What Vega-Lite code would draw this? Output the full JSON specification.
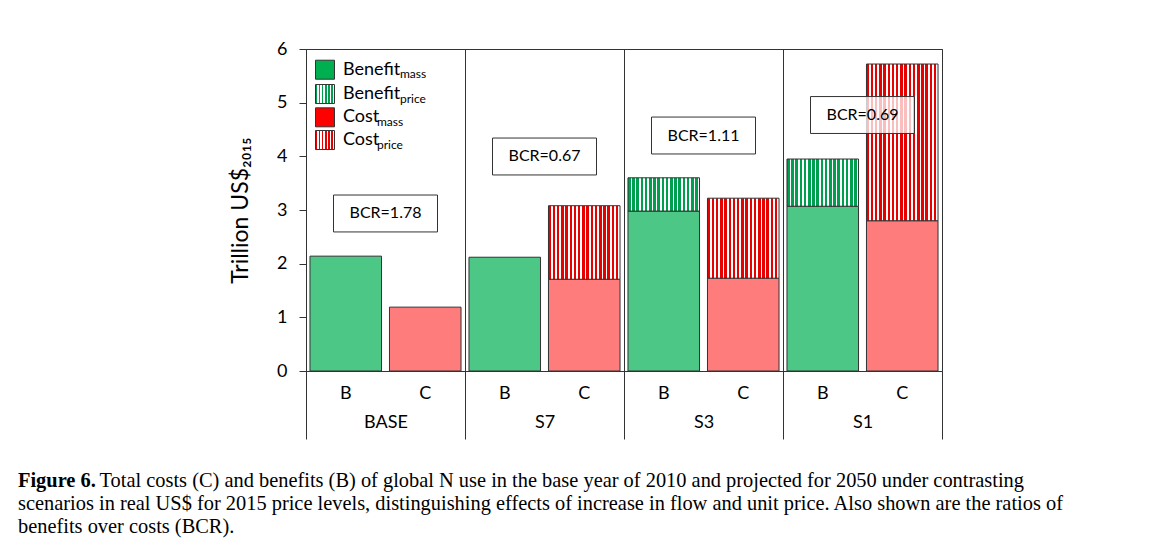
{
  "$schema": "https://vega.github.io/schema/vega-lite/v6.json",
  "width": 636,
  "height": 322,
  "autosize": {"type": "none"},
  "padding": {"left": 306, "top": 49, "right": 210, "bottom": 180},
  "background": "white",
  "config": {
    "view": {"stroke": "#333", "strokeWidth": 1},
    "font": "Lato",
    "axis": {"labelColor": "black", "titleColor": "black", "labelFont": "Lato", "titleFont": "Lato"}
  },
  "datasets": {
    "bars": [
      {"scenario": "BASE", "type": "B", "bar": "BASE B", "mass": 2.14, "total": 2.14},
      {"scenario": "BASE", "type": "C", "bar": "BASE C", "mass": 1.19, "total": 1.19},
      {"scenario": "S7", "type": "B", "bar": "S7 B", "mass": 2.12, "total": 2.12},
      {"scenario": "S7", "type": "C", "bar": "S7 C", "mass": 1.71, "total": 3.08},
      {"scenario": "S3", "type": "B", "bar": "S3 B", "mass": 2.98, "total": 3.60},
      {"scenario": "S3", "type": "C", "bar": "S3 C", "mass": 1.73, "total": 3.22},
      {"scenario": "S1", "type": "B", "bar": "S1 B", "mass": 3.07, "total": 3.95},
      {"scenario": "S1", "type": "C", "bar": "S1 C", "mass": 2.80, "total": 5.72}
    ],
    "bcr": [
      {"scenario": "BASE", "label": "BCR=1.78"},
      {"scenario": "S7", "label": "BCR=0.67"},
      {"scenario": "S3", "label": "BCR=1.11"},
      {"scenario": "S1", "label": "BCR=0.69"}
    ],
    "legend": [
      {"key": "bm", "word": "Benefit", "sub": "mass"},
      {"key": "bp", "word": "Benefit", "sub": "price"},
      {"key": "cm", "word": "Cost", "sub": "mass"},
      {"key": "cp", "word": "Cost", "sub": "price"}
    ]
  },
  "title": {
    "text": "Figure 6.",
    "subtitle": [
      "\u200b\u00a0\u00a0\u00a0\u00a0\u00a0\u00a0\u00a0\u00a0\u00a0\u00a0\u00a0\u00a0\u00a0\u00a0\u00a0\u00a0Total costs (C) and benefits (B) of global N use in the base year of 2010 and projected for 2050 under contrasting",
      "scenarios in real US$ for 2015 price levels, distinguishing effects of increase in flow and unit price. Also shown are the ratios of",
      "benefits over costs (BCR)."
    ],
    "orient": "bottom",
    "anchor": "start",
    "frame": "group",
    "dx": -288,
    "offset": 31,
    "font": "Liberation Serif",
    "fontSize": 20.4,
    "fontWeight": "bold",
    "color": "black",
    "subtitleFont": "Liberation Serif",
    "subtitleFontSize": 20.4,
    "subtitleFontWeight": "normal",
    "subtitleColor": "black",
    "subtitleLineHeight": 23,
    "subtitlePadding": -19.5
  },
  "resolve": {"scale": {"x": "independent"}},
  "layer": [
    {
      "data": {"name": "bars"},
      "layer": [
        {
          "mark": {"type": "bar", "stroke": "#333", "strokeWidth": 1},
          "encoding": {
            "x": {
              "field": "bar", "type": "nominal",
              "scale": {"domain": ["BASE B", "BASE C", "S7 B", "S7 C", "S3 B", "S3 C", "S1 B", "S1 C"], "paddingInner": 0.1, "paddingOuter": 0.05},
              "axis": {"title": null, "labelExpr": "slice(datum.label, -1)", "ticks": false, "domain": false, "grid": false, "labelAngle": 0, "labelFontSize": 18, "labelPadding": 13}
            },
            "y": {
              "field": "mass", "type": "quantitative",
              "scale": {"domain": [0, 6], "nice": false},
              "axis": {"title": "Trillion US$₂₀₁₅", "values": [0, 1, 2, 3, 4, 5, 6], "format": "d", "grid": false, "domain": false, "ticks": true, "tickSize": 7, "tickColor": "#333", "labelPadding": 12, "labelFontSize": 18, "titleFontSize": 23, "titleFontWeight": "normal", "titlePadding": 24}
            },
            "color": {"field": "type", "type": "nominal", "scale": {"domain": ["B", "C"], "range": ["#4DC785", "#FF7C7C"]}, "legend": null}
          }
        },
        {
          "transform": [{"filter": "datum.type == 'B' && datum.total > datum.mass"}],
          "mark": {"type": "bar", "stroke": "#333", "strokeWidth": 1, "fill": {"gradient": "linear", "x1": 0, "y1": 0, "x2": 1, "y2": 0, "stops": [
            {"offset": 0, "color": "#009E4F"}, {"offset": 0.0353, "color": "#009E4F"}, {"offset": 0.0353, "color": "#FFFFFF"}, {"offset": 0.0588, "color": "#FFFFFF"},
            {"offset": 0.0588, "color": "#009E4F"}, {"offset": 0.0941, "color": "#009E4F"}, {"offset": 0.0941, "color": "#FFFFFF"}, {"offset": 0.1176, "color": "#FFFFFF"},
            {"offset": 0.1176, "color": "#009E4F"}, {"offset": 0.1529, "color": "#009E4F"}, {"offset": 0.1529, "color": "#FFFFFF"}, {"offset": 0.1765, "color": "#FFFFFF"},
            {"offset": 0.1765, "color": "#009E4F"}, {"offset": 0.2118, "color": "#009E4F"}, {"offset": 0.2118, "color": "#FFFFFF"}, {"offset": 0.2353, "color": "#FFFFFF"},
            {"offset": 0.2353, "color": "#009E4F"}, {"offset": 0.2706, "color": "#009E4F"}, {"offset": 0.2706, "color": "#FFFFFF"}, {"offset": 0.2941, "color": "#FFFFFF"},
            {"offset": 0.2941, "color": "#009E4F"}, {"offset": 0.3294, "color": "#009E4F"}, {"offset": 0.3294, "color": "#FFFFFF"}, {"offset": 0.3529, "color": "#FFFFFF"},
            {"offset": 0.3529, "color": "#009E4F"}, {"offset": 0.3882, "color": "#009E4F"}, {"offset": 0.3882, "color": "#FFFFFF"}, {"offset": 0.4118, "color": "#FFFFFF"},
            {"offset": 0.4118, "color": "#009E4F"}, {"offset": 0.4471, "color": "#009E4F"}, {"offset": 0.4471, "color": "#FFFFFF"}, {"offset": 0.4706, "color": "#FFFFFF"},
            {"offset": 0.4706, "color": "#009E4F"}, {"offset": 0.5059, "color": "#009E4F"}, {"offset": 0.5059, "color": "#FFFFFF"}, {"offset": 0.5294, "color": "#FFFFFF"},
            {"offset": 0.5294, "color": "#009E4F"}, {"offset": 0.5647, "color": "#009E4F"}, {"offset": 0.5647, "color": "#FFFFFF"}, {"offset": 0.5882, "color": "#FFFFFF"},
            {"offset": 0.5882, "color": "#009E4F"}, {"offset": 0.6235, "color": "#009E4F"}, {"offset": 0.6235, "color": "#FFFFFF"}, {"offset": 0.6471, "color": "#FFFFFF"},
            {"offset": 0.6471, "color": "#009E4F"}, {"offset": 0.6824, "color": "#009E4F"}, {"offset": 0.6824, "color": "#FFFFFF"}, {"offset": 0.7059, "color": "#FFFFFF"},
            {"offset": 0.7059, "color": "#009E4F"}, {"offset": 0.7412, "color": "#009E4F"}, {"offset": 0.7412, "color": "#FFFFFF"}, {"offset": 0.7647, "color": "#FFFFFF"},
            {"offset": 0.7647, "color": "#009E4F"}, {"offset": 0.8, "color": "#009E4F"}, {"offset": 0.8, "color": "#FFFFFF"}, {"offset": 0.8235, "color": "#FFFFFF"},
            {"offset": 0.8235, "color": "#009E4F"}, {"offset": 0.8588, "color": "#009E4F"}, {"offset": 0.8588, "color": "#FFFFFF"}, {"offset": 0.8824, "color": "#FFFFFF"},
            {"offset": 0.8824, "color": "#009E4F"}, {"offset": 0.9176, "color": "#009E4F"}, {"offset": 0.9176, "color": "#FFFFFF"}, {"offset": 0.9412, "color": "#FFFFFF"},
            {"offset": 0.9412, "color": "#009E4F"}, {"offset": 0.9765, "color": "#009E4F"}, {"offset": 0.9765, "color": "#FFFFFF"}, {"offset": 1, "color": "#FFFFFF"}
          ]}},
          "encoding": {
            "x": {"field": "bar", "type": "nominal"},
            "y": {"field": "total", "type": "quantitative"},
            "y2": {"field": "mass"}
          }
        },
        {
          "transform": [{"filter": "datum.type == 'C' && datum.total > datum.mass"}],
          "mark": {"type": "bar", "stroke": "#333", "strokeWidth": 1, "fill": {"gradient": "linear", "x1": 0, "y1": 0, "x2": 1, "y2": 0, "stops": [
            {"offset": 0, "color": "#E60000"}, {"offset": 0.0353, "color": "#E60000"}, {"offset": 0.0353, "color": "#FFFFFF"}, {"offset": 0.0588, "color": "#FFFFFF"},
            {"offset": 0.0588, "color": "#E60000"}, {"offset": 0.0941, "color": "#E60000"}, {"offset": 0.0941, "color": "#FFFFFF"}, {"offset": 0.1176, "color": "#FFFFFF"},
            {"offset": 0.1176, "color": "#E60000"}, {"offset": 0.1529, "color": "#E60000"}, {"offset": 0.1529, "color": "#FFFFFF"}, {"offset": 0.1765, "color": "#FFFFFF"},
            {"offset": 0.1765, "color": "#E60000"}, {"offset": 0.2118, "color": "#E60000"}, {"offset": 0.2118, "color": "#FFFFFF"}, {"offset": 0.2353, "color": "#FFFFFF"},
            {"offset": 0.2353, "color": "#E60000"}, {"offset": 0.2706, "color": "#E60000"}, {"offset": 0.2706, "color": "#FFFFFF"}, {"offset": 0.2941, "color": "#FFFFFF"},
            {"offset": 0.2941, "color": "#E60000"}, {"offset": 0.3294, "color": "#E60000"}, {"offset": 0.3294, "color": "#FFFFFF"}, {"offset": 0.3529, "color": "#FFFFFF"},
            {"offset": 0.3529, "color": "#E60000"}, {"offset": 0.3882, "color": "#E60000"}, {"offset": 0.3882, "color": "#FFFFFF"}, {"offset": 0.4118, "color": "#FFFFFF"},
            {"offset": 0.4118, "color": "#E60000"}, {"offset": 0.4471, "color": "#E60000"}, {"offset": 0.4471, "color": "#FFFFFF"}, {"offset": 0.4706, "color": "#FFFFFF"},
            {"offset": 0.4706, "color": "#E60000"}, {"offset": 0.5059, "color": "#E60000"}, {"offset": 0.5059, "color": "#FFFFFF"}, {"offset": 0.5294, "color": "#FFFFFF"},
            {"offset": 0.5294, "color": "#E60000"}, {"offset": 0.5647, "color": "#E60000"}, {"offset": 0.5647, "color": "#FFFFFF"}, {"offset": 0.5882, "color": "#FFFFFF"},
            {"offset": 0.5882, "color": "#E60000"}, {"offset": 0.6235, "color": "#E60000"}, {"offset": 0.6235, "color": "#FFFFFF"}, {"offset": 0.6471, "color": "#FFFFFF"},
            {"offset": 0.6471, "color": "#E60000"}, {"offset": 0.6824, "color": "#E60000"}, {"offset": 0.6824, "color": "#FFFFFF"}, {"offset": 0.7059, "color": "#FFFFFF"},
            {"offset": 0.7059, "color": "#E60000"}, {"offset": 0.7412, "color": "#E60000"}, {"offset": 0.7412, "color": "#FFFFFF"}, {"offset": 0.7647, "color": "#FFFFFF"},
            {"offset": 0.7647, "color": "#E60000"}, {"offset": 0.8, "color": "#E60000"}, {"offset": 0.8, "color": "#FFFFFF"}, {"offset": 0.8235, "color": "#FFFFFF"},
            {"offset": 0.8235, "color": "#E60000"}, {"offset": 0.8588, "color": "#E60000"}, {"offset": 0.8588, "color": "#FFFFFF"}, {"offset": 0.8824, "color": "#FFFFFF"},
            {"offset": 0.8824, "color": "#E60000"}, {"offset": 0.9176, "color": "#E60000"}, {"offset": 0.9176, "color": "#FFFFFF"}, {"offset": 0.9412, "color": "#FFFFFF"},
            {"offset": 0.9412, "color": "#E60000"}, {"offset": 0.9765, "color": "#E60000"}, {"offset": 0.9765, "color": "#FFFFFF"}, {"offset": 1, "color": "#FFFFFF"}
          ]}},
          "encoding": {
            "x": {"field": "bar", "type": "nominal"},
            "y": {"field": "total", "type": "quantitative"},
            "y2": {"field": "mass"}
          }
        },
        {
          "data": {"name": "legend"},
          "transform": [{"filter": "datum.key == 'bm'"}],
          "encoding": {"x": {"datum": "BASE B", "type": "nominal", "bandPosition": 0.21}, "y": {"datum": 5.614, "type": "quantitative"}},
          "layer": [
            {"mark": {"type": "point", "shape": "square", "size": 361, "filled": true, "fill": "#00B050", "stroke": "#333", "strokeWidth": 1, "opacity": 1}},
            {"mark": {"type": "text", "align": "left", "baseline": "alphabetic", "dx": 18, "dy": 5, "fontSize": 18, "font": "Lato", "color": "black"}, "encoding": {"text": {"field": "word"}}},
            {"mark": {"type": "text", "align": "left", "baseline": "alphabetic", "dx": 75, "dy": 8.5, "fontSize": 12, "font": "Lato", "color": "black"}, "encoding": {"text": {"field": "sub"}}}
          ]
        },
        {
          "data": {"name": "legend"},
          "transform": [{"filter": "datum.key == 'bp'"}],
          "encoding": {"x": {"datum": "BASE B", "type": "nominal", "bandPosition": 0.21}, "y": {"datum": 5.161, "type": "quantitative"}},
          "layer": [
            {"mark": {"type": "point", "shape": "square", "size": 361, "filled": true, "stroke": "#333", "strokeWidth": 1, "opacity": 1, "fill": {"gradient": "linear", "x1": 0, "y1": 0, "x2": 1, "y2": 0, "stops": [
              {"offset": 0, "color": "#009E4F"}, {"offset": 0.0833, "color": "#009E4F"}, {"offset": 0.0833, "color": "#FFFFFF"}, {"offset": 0.1667, "color": "#FFFFFF"},
              {"offset": 0.1667, "color": "#009E4F"}, {"offset": 0.25, "color": "#009E4F"}, {"offset": 0.25, "color": "#FFFFFF"}, {"offset": 0.3333, "color": "#FFFFFF"},
              {"offset": 0.3333, "color": "#009E4F"}, {"offset": 0.4167, "color": "#009E4F"}, {"offset": 0.4167, "color": "#FFFFFF"}, {"offset": 0.5, "color": "#FFFFFF"},
              {"offset": 0.5, "color": "#009E4F"}, {"offset": 0.5833, "color": "#009E4F"}, {"offset": 0.5833, "color": "#FFFFFF"}, {"offset": 0.6667, "color": "#FFFFFF"},
              {"offset": 0.6667, "color": "#009E4F"}, {"offset": 0.75, "color": "#009E4F"}, {"offset": 0.75, "color": "#FFFFFF"}, {"offset": 0.8333, "color": "#FFFFFF"},
              {"offset": 0.8333, "color": "#009E4F"}, {"offset": 0.9167, "color": "#009E4F"}, {"offset": 0.9167, "color": "#FFFFFF"}, {"offset": 1, "color": "#FFFFFF"}
            ]}}},
            {"mark": {"type": "text", "align": "left", "baseline": "alphabetic", "dx": 18, "dy": 5, "fontSize": 18, "font": "Lato", "color": "black"}, "encoding": {"text": {"field": "word"}}},
            {"mark": {"type": "text", "align": "left", "baseline": "alphabetic", "dx": 75, "dy": 8.5, "fontSize": 12, "font": "Lato", "color": "black"}, "encoding": {"text": {"field": "sub"}}}
          ]
        },
        {
          "data": {"name": "legend"},
          "transform": [{"filter": "datum.key == 'cm'"}],
          "encoding": {"x": {"datum": "BASE B", "type": "nominal", "bandPosition": 0.21}, "y": {"datum": 4.727, "type": "quantitative"}},
          "layer": [
            {"mark": {"type": "point", "shape": "square", "size": 361, "filled": true, "fill": "#FF0000", "stroke": "#333", "strokeWidth": 1, "opacity": 1}},
            {"mark": {"type": "text", "align": "left", "baseline": "alphabetic", "dx": 18, "dy": 5, "fontSize": 18, "font": "Lato", "color": "black"}, "encoding": {"text": {"field": "word"}}},
            {"mark": {"type": "text", "align": "left", "baseline": "alphabetic", "dx": 52, "dy": 8.5, "fontSize": 12, "font": "Lato", "color": "black"}, "encoding": {"text": {"field": "sub"}}}
          ]
        },
        {
          "data": {"name": "legend"},
          "transform": [{"filter": "datum.key == 'cp'"}],
          "encoding": {"x": {"datum": "BASE B", "type": "nominal", "bandPosition": 0.21}, "y": {"datum": 4.304, "type": "quantitative"}},
          "layer": [
            {"mark": {"type": "point", "shape": "square", "size": 361, "filled": true, "stroke": "#333", "strokeWidth": 1, "opacity": 1, "fill": {"gradient": "linear", "x1": 0, "y1": 0, "x2": 1, "y2": 0, "stops": [
              {"offset": 0, "color": "#E60000"}, {"offset": 0.0833, "color": "#E60000"}, {"offset": 0.0833, "color": "#FFFFFF"}, {"offset": 0.1667, "color": "#FFFFFF"},
              {"offset": 0.1667, "color": "#E60000"}, {"offset": 0.25, "color": "#E60000"}, {"offset": 0.25, "color": "#FFFFFF"}, {"offset": 0.3333, "color": "#FFFFFF"},
              {"offset": 0.3333, "color": "#E60000"}, {"offset": 0.4167, "color": "#E60000"}, {"offset": 0.4167, "color": "#FFFFFF"}, {"offset": 0.5, "color": "#FFFFFF"},
              {"offset": 0.5, "color": "#E60000"}, {"offset": 0.5833, "color": "#E60000"}, {"offset": 0.5833, "color": "#FFFFFF"}, {"offset": 0.6667, "color": "#FFFFFF"},
              {"offset": 0.6667, "color": "#E60000"}, {"offset": 0.75, "color": "#E60000"}, {"offset": 0.75, "color": "#FFFFFF"}, {"offset": 0.8333, "color": "#FFFFFF"},
              {"offset": 0.8333, "color": "#E60000"}, {"offset": 0.9167, "color": "#E60000"}, {"offset": 0.9167, "color": "#FFFFFF"}, {"offset": 1, "color": "#FFFFFF"}
            ]}}},
            {"mark": {"type": "text", "align": "left", "baseline": "alphabetic", "dx": 18, "dy": 5, "fontSize": 18, "font": "Lato", "color": "black"}, "encoding": {"text": {"field": "word"}}},
            {"mark": {"type": "text", "align": "left", "baseline": "alphabetic", "dx": 52, "dy": 8.5, "fontSize": 12, "font": "Lato", "color": "black"}, "encoding": {"text": {"field": "sub"}}}
          ]
        }
      ]
    },
    {
      "data": {"name": "bcr"},
      "encoding": {
        "x": {
          "field": "scenario", "type": "nominal",
          "scale": {"domain": ["BASE", "S7", "S3", "S1"], "paddingInner": 0, "paddingOuter": 0},
          "axis": {"title": null, "orient": "bottom", "labelAngle": 0, "ticks": true, "tickBand": "extent", "tickSize": 68, "tickColor": "#333", "domain": false, "grid": true, "gridColor": "#333", "gridOpacity": 1, "labelPadding": -26, "labelFontSize": 18}
        }
      },
      "layer": [
        {
          "transform": [{"filter": "datum.scenario == 'BASE'"}],
          "encoding": {"y": {"datum": 2.935, "type": "quantitative"}},
          "layer": [
            {"mark": {"type": "point", "shape": "M-1,-0.355L1,-0.355L1,0.355L-1,0.355Z", "size": 10816, "filled": true, "fill": "white", "fillOpacity": 0.75, "stroke": "#333", "strokeWidth": 1, "opacity": 1}},
            {"mark": {"type": "text", "fontSize": 16, "font": "Lato", "color": "black", "baseline": "middle"}, "encoding": {"text": {"field": "label"}}}
          ]
        },
        {
          "transform": [{"filter": "datum.scenario == 'S7'"}],
          "encoding": {"y": {"datum": 3.997, "type": "quantitative"}},
          "layer": [
            {"mark": {"type": "point", "shape": "M-1,-0.355L1,-0.355L1,0.355L-1,0.355Z", "size": 10816, "filled": true, "fill": "white", "fillOpacity": 0.75, "stroke": "#333", "strokeWidth": 1, "opacity": 1}},
            {"mark": {"type": "text", "fontSize": 16, "font": "Lato", "color": "black", "baseline": "middle"}, "encoding": {"text": {"field": "label"}}}
          ]
        },
        {
          "transform": [{"filter": "datum.scenario == 'S3'"}],
          "encoding": {"y": {"datum": 4.388, "type": "quantitative"}},
          "layer": [
            {"mark": {"type": "point", "shape": "M-1,-0.355L1,-0.355L1,0.355L-1,0.355Z", "size": 10816, "filled": true, "fill": "white", "fillOpacity": 0.75, "stroke": "#333", "strokeWidth": 1, "opacity": 1}},
            {"mark": {"type": "text", "fontSize": 16, "font": "Lato", "color": "black", "baseline": "middle"}, "encoding": {"text": {"field": "label"}}}
          ]
        },
        {
          "transform": [{"filter": "datum.scenario == 'S1'"}],
          "encoding": {"y": {"datum": 4.77, "type": "quantitative"}},
          "layer": [
            {"mark": {"type": "point", "shape": "M-1,-0.355L1,-0.355L1,0.355L-1,0.355Z", "size": 10816, "filled": true, "fill": "white", "fillOpacity": 0.75, "stroke": "#333", "strokeWidth": 1, "opacity": 1}},
            {"mark": {"type": "text", "fontSize": 16, "font": "Lato", "color": "black", "baseline": "middle"}, "encoding": {"text": {"field": "label"}}}
          ]
        }
      ]
    }
  ]
}
